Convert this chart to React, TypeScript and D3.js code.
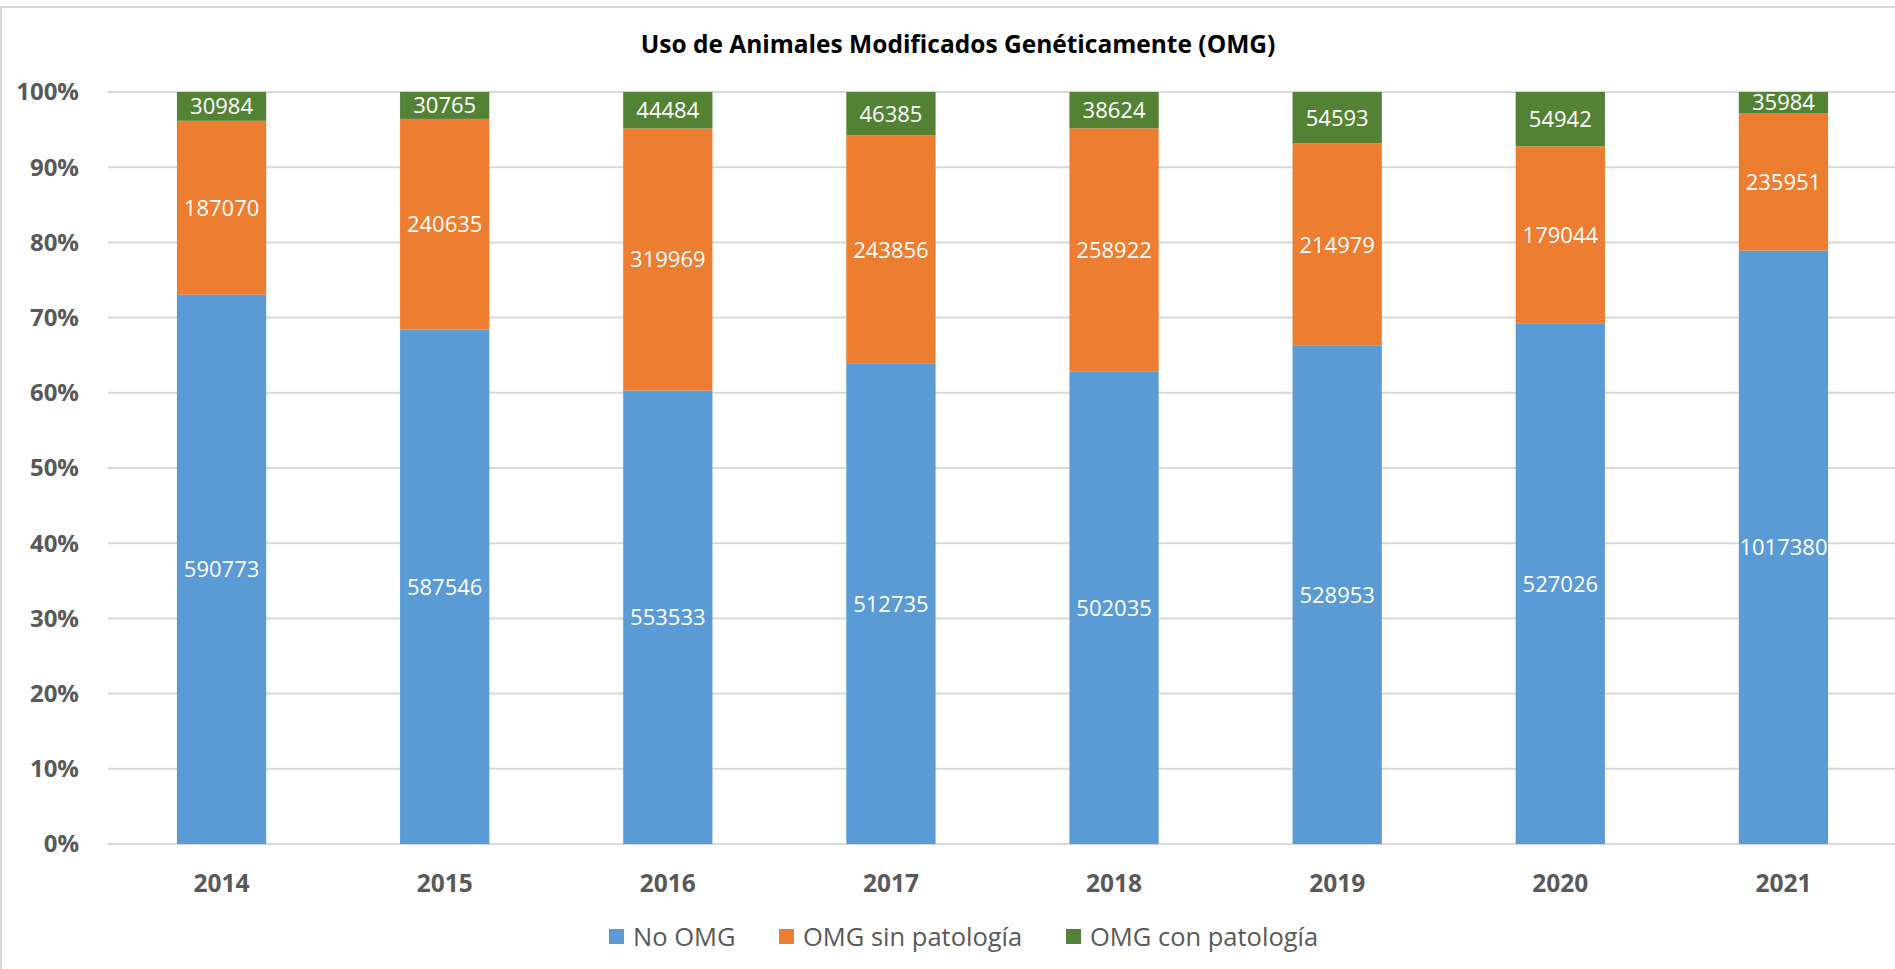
import React, { useMemo } from 'react';
import * as d3 from 'd3';

// values
const years = ['2014', '2015', '2016', '2017', '2018', '2019', '2020', '2021'];
const noOmg = [590773, 587546, 553533, 512735, 502035, 528953, 527026, 1017380];
const omgSinPatologia = [187070, 240635, 319969, 243856, 258922, 214979, 179044, 235951];
const omgConPatologia = [30984, 30765, 44484, 46385, 38624, 54593, 54942, 35984];
const seriesNames = ['No OMG', 'OMG sin patología', 'OMG con patología'];
const seriesColors = ['#5B9BD5', '#ED7D31', '#548235'];
const yTicks = [0, 0.1, 0.2, 0.3, 0.4, 0.5, 0.6, 0.7, 0.8, 0.9, 1];

const W = 1895;
const H = 969;
const font = "'Open Sans', 'Noto Sans', sans-serif";

export default function App() {
  const rows = years.map((y, i) => ({
    year: y,
    s0: noOmg[i],
    s1: omgSinPatologia[i],
    s2: omgConPatologia[i],
  }));

  const stacked = useMemo(
    () => d3.stack<any>().keys(['s0', 's1', 's2']).offset(d3.stackOffsetExpand)(rows),
    []
  );

  const x = d3.scaleBand().domain(years).range([110, 1895]).paddingInner(0.6).paddingOuter(0.3);
  const y = d3.scaleLinear().domain([0, 1]).range([844, 92]);
  const fmt = d3.format('.0%');

  const legendX = [609, 779, 1066];

  return (
    <svg width={W} height={H} style={{ position: 'absolute', left: 0, top: 0 }} fontFamily={font}>
      <rect x={0} y={0} width={W} height={H} fill="#fff" />
      <rect x={1} y={7} width={W + 10} height={H + 10} fill="none" stroke="#D9D9D9" strokeWidth={2} />

      <text x={958} y={53} textAnchor="middle" fontSize={24.5} fontWeight="bold" fill="#000">
        Uso de Animales Modificados Genéticamente (OMG)
      </text>

      {yTicks.map((t) => (
        <g key={t}>
          <line x1={108} x2={W} y1={y(t)} y2={y(t)} stroke="#D9D9D9" strokeWidth={2} />
          <text x={79} y={y(t)} dy="0.35em" textAnchor="end" fontSize={24} fontWeight="bold" fill="#595959">
            {fmt(t)}
          </text>
        </g>
      ))}

      {stacked.map((layer, si) => (
        <g key={si} fill={seriesColors[si]}>
          {layer.map((d, i) => (
            <rect
              key={i}
              x={x(years[i])}
              y={y(d[1])}
              width={x.bandwidth()}
              height={y(d[0]) - y(d[1])}
            />
          ))}
        </g>
      ))}

      {stacked.map((layer, si) => (
        <g key={'l' + si}>
          {layer.map((d, i) => {
            const v = [noOmg, omgSinPatologia, omgConPatologia][si][i];
            return (
              <text
                key={i}
                x={(x(years[i]) as number) + x.bandwidth() / 2}
                y={(y(d[0]) + y(d[1])) / 2}
                dy="0.36em"
                textAnchor="middle"
                fontSize={22}
                fill="#fff"
              >
                {v}
              </text>
            );
          })}
        </g>
      ))}

      {years.map((yr) => (
        <text
          key={yr}
          x={(x(yr) as number) + x.bandwidth() / 2}
          y={883}
          dy="0.35em"
          textAnchor="middle"
          fontSize={24.5}
          fontWeight="bold"
          fill="#595959"
        >
          {yr}
        </text>
      ))}

      {seriesNames.map((n, i) => (
        <g key={n}>
          <rect x={legendX[i]} y={929} width={15} height={15} fill={seriesColors[i]} />
          <text x={legendX[i] + 24} y={937} dy="0.35em" fontSize={25.5} fill="#595959">
            {n}
          </text>
        </g>
      ))}
    </svg>
  );
}
